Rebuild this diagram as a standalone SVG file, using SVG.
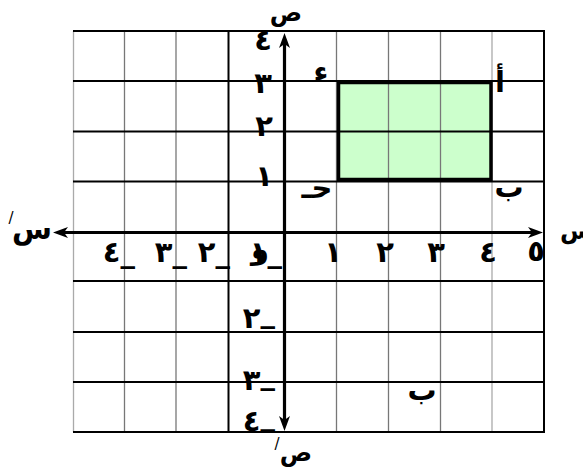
<svg xmlns="http://www.w3.org/2000/svg" width="583" height="469" viewBox="0 0 583 469">
<style>
.gv{stroke:#777;stroke-width:1.3;fill:none}
.gl{stroke:#aaa;stroke-width:1.3;fill:none}
.gb{stroke:#000;stroke-width:2;fill:none}
.ax{stroke:#000;stroke-width:3.2;fill:none}
.t{font-family:"DejaVu Sans",sans-serif;font-weight:bold;font-size:29px;fill:#000}
.m{font-family:"DejaVu Sans",sans-serif;font-weight:bold;font-size:29px;fill:#000;letter-spacing:-2px}
.l{font-family:"DejaVu Sans",sans-serif;font-weight:bold;font-size:24px;fill:#000}
.s{font-family:"DejaVu Sans",sans-serif;font-size:15px;fill:#000}
</style>
<defs>
<marker id="ah" markerUnits="userSpaceOnUse" markerWidth="20" markerHeight="14" refX="4" refY="0" viewBox="-1 -7 18 14" orient="auto-start-reverse">
<path d="M0,-5.5 L15,0 L0,5.5 L4,0 Z" fill="#000"/>
</marker>
</defs>
<rect width="583" height="469" fill="#fff"/>
<g id="grid">
<line class="gl" x1="73.5" y1="31" x2="73.5" y2="432"/>
<line class="gv" x1="124.5" y1="31" x2="124.5" y2="432"/>
<line class="gv" x1="176" y1="31" x2="176" y2="432"/>
<line class="gb" x1="228.5" y1="31" x2="228.5" y2="432"/>
<line class="gv" x1="336.5" y1="31" x2="336.5" y2="432"/>
<line class="gv" x1="388.5" y1="31" x2="388.5" y2="432"/>
<line class="gv" x1="440.5" y1="31" x2="440.5" y2="432"/>
<line class="gl" x1="492" y1="31" x2="492" y2="432"/>
<line class="gb" x1="544" y1="31" x2="544" y2="432"/>
<line class="gb" x1="73" y1="31" x2="545" y2="31"/>
<line class="gb" x1="73" y1="81" x2="545" y2="81"/>
<line class="gb" x1="73" y1="131.5" x2="545" y2="131.5"/>
<line class="gb" x1="73" y1="181.5" x2="545" y2="181.5"/>
<line class="gb" x1="73" y1="281" x2="545" y2="281" stroke-width="3"/>
<line class="gb" x1="73" y1="332" x2="545" y2="332"/>
<line class="gb" x1="73" y1="382" x2="545" y2="382"/>
<line class="gb" x1="73" y1="432" x2="545" y2="432"/>
</g>
<g id="rectangle">
<rect x="338.5" y="82.5" width="152.5" height="97" fill="#ccffcc" stroke="none"/>
<line class="gv" x1="388.5" y1="82.5" x2="388.5" y2="179.5"/>
<line class="gv" x1="440.5" y1="82.5" x2="440.5" y2="179.5"/>
<line class="gb" x1="338.5" y1="131.5" x2="491" y2="131.5"/>
<rect x="338.5" y="82.5" width="152.5" height="97" fill="none" stroke="#000" stroke-width="3.5"/>
</g>
<g id="axes">
<line class="ax" x1="64" y1="232.5" x2="532" y2="232.5" marker-start="url(#ah)" marker-end="url(#ah)"/>
<line class="ax" x1="284.5" y1="44" x2="284.5" y2="420" marker-start="url(#ah)" marker-end="url(#ah)"/>
</g>
<g id="labels">
<text class="t" x="263" y="50" text-anchor="middle">٤</text>
<text class="t" x="263" y="93" text-anchor="middle">٣</text>
<text class="t" x="264" y="136" text-anchor="middle">٢</text>
<text class="t" x="264" y="186" text-anchor="middle">١</text>
<text class="t" x="333" y="262" text-anchor="middle">١</text>
<text class="t" x="385" y="262" text-anchor="middle">٢</text>
<text class="t" x="436" y="262" text-anchor="middle">٣</text>
<text class="t" x="488" y="262" text-anchor="middle">٤</text>
<text class="t" x="536" y="261" text-anchor="middle">٥</text>
<text class="m" x="135" y="262" text-anchor="end">٤_</text>
<text class="m" x="187" y="262" text-anchor="end">٣_</text>
<text class="m" x="230" y="262" text-anchor="end">٢_</text>
<text class="m" x="282" y="262" text-anchor="end">١_</text>
<text class="t" x="260" y="259" text-anchor="middle">و</text>
<text class="m" x="275" y="328" text-anchor="end">٢<tspan dy="-6">_</tspan></text>
<text class="m" x="275" y="390" text-anchor="end">٣<tspan dy="-6">_</tspan></text>
<text class="m" x="275" y="431" text-anchor="end">٤<tspan dy="-6">_</tspan></text>
<text class="l" x="286" y="21" text-anchor="middle">ص</text>
<text class="t" x="321" y="81" text-anchor="middle">ء</text>
<text class="t" x="500" y="92" text-anchor="middle">أ</text>
<text class="t" x="317" y="198" text-anchor="middle">حـ</text>
<text class="t" x="509" y="197" text-anchor="middle">ب</text>
<text class="t" x="422" y="400" text-anchor="middle">ب</text>
<text class="l" x="560" y="239">س</text>
<text class="t" x="32" y="239" text-anchor="middle">س</text>
<text class="s" x="11" y="223" text-anchor="middle">/</text>
<text class="l" x="296" y="461" text-anchor="middle">ص</text>
<text class="s" x="277" y="449" text-anchor="middle">/</text>
</g>
</svg>
